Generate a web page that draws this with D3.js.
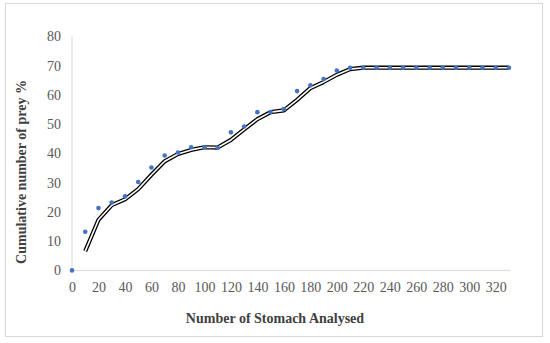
<!DOCTYPE html>
<html>
<head>
<meta charset="utf-8">
<script src="https://cdn.jsdelivr.net/npm/d3@7"></script>
<style>
  html, body { margin: 0; padding: 0; background: #fff; }
  svg { display: block; }
</style>
</head>
<body>
<svg id="chart" width="550" height="343"></svg>
<script>
// Data
const stomachs = [0,10,20,30,40,50,60,70,80,90,100,110,120,130,140,150,160,170,180,190,200,210,220,230,240,250,260,270,280,290,300,310,320,330];
const preyPct  = [0,13.2,21.3,23.2,25.3,30.2,35.2,39.3,40.3,42.1,42.1,41.9,47.2,49.2,54.1,54.1,55.2,61.3,63.3,65.4,68.3,69.3,69.3,69.3,69.3,69.3,69.3,69.3,69.3,69.3,69.3,69.3,69.3,69.3];
// 2-period moving-average trendline as drawn (starts at 10)
const trendX = [10,20,30,40,50,60,70,80,90,100,110,120,130,140,150,160,170,180,190,200,210,220,230,240,250,260,270,280,290,300,310,320,330];
const trendY = [6.6,17.3,22.3,24.3,27.8,32.7,37.3,39.8,41.2,42.1,42.0,44.6,48.2,51.7,54.1,54.7,58.3,62.3,64.4,66.9,68.8,69.3,69.3,69.3,69.3,69.3,69.3,69.3,69.3,69.3,69.3,69.3,69.3];
const xTicks = [0,20,40,60,80,100,120,140,160,180,200,220,240,260,280,300,320];
const yTicks = [0,10,20,30,40,50,60,70,80];
const xTitle = "Number of Stomach Analysed";
const yTitle = "Cumulative number of prey %";

const svg = d3.select("#chart");

// outer chart border
svg.append("rect")
  .attr("x", 5.5).attr("y", 3.5).attr("width", 537).attr("height", 333)
  .attr("fill", "#fff").attr("stroke", "#d9d9d9").attr("stroke-width", 1);

const x = d3.scaleLinear().domain([0, 330]).range([72, 509]);
const y = d3.scaleLinear().domain([0, 80]).range([270.4, 36.4]);

const font = "'Liberation Serif', 'Times New Roman', serif";

// axes lines
svg.append("line")
  .attr("x1", 72).attr("x2", 72).attr("y1", y(80)).attr("y2", y(0))
  .attr("stroke", "#d9d9d9").attr("stroke-width", 1);
svg.append("line")
  .attr("x1", 72).attr("x2", 510.5).attr("y1", y(0)).attr("y2", y(0))
  .attr("stroke", "#d9d9d9").attr("stroke-width", 1);

// y tick labels
const yAxis = d3.axisLeft(y).tickValues(yTicks).tickSize(0).tickPadding(11);
const gy = svg.append("g").attr("transform", "translate(72,0)").call(yAxis)
  .attr("font-family", font).attr("font-size", 14);
gy.select(".domain").remove();
gy.selectAll("text").style("font-family", font).style("font-size", "14px").attr("fill", "#595959");

// x tick labels
const xAxis = d3.axisBottom(x).tickValues(xTicks).tickSize(0).tickPadding(12);
const gx = svg.append("g").attr("transform", `translate(0,${y(0)})`).call(xAxis)
  .attr("font-family", font).attr("font-size", 14);
gx.select(".domain").remove();
gx.selectAll("text").style("font-family", font).style("font-size", "14px").attr("fill", "#595959");

// trend line (double compound line)
const line = d3.line().x((d, i) => x(trendX[i])).y(d => y(d));
svg.append("path").datum(trendY).attr("d", line)
  .attr("fill", "none").attr("stroke", "#000").attr("stroke-width", 4.2)
  .attr("stroke-linejoin", "round");
svg.append("path").datum(trendY).attr("d", line)
  .attr("fill", "none").attr("stroke", "#fff").attr("stroke-width", 1.6)
  .attr("stroke-linejoin", "round");

// data points
svg.append("g").selectAll("circle").data(preyPct).join("circle")
  .attr("cx", (d, i) => x(stomachs[i]))
  .attr("cy", d => y(d))
  .attr("r", 2.3)
  .attr("fill", "#4472C4");

// titles
svg.append("text")
  .attr("x", 275).attr("y", 323)
  .attr("text-anchor", "middle")
  .style("font-family", font).style("font-size", "14px").attr("font-weight", "bold")
  .attr("fill", "#404040")
  .text(xTitle);

svg.append("text")
  .attr("transform", "translate(26,172) rotate(-90)")
  .attr("text-anchor", "middle")
  .style("font-family", font).style("font-size", "14px").attr("font-weight", "bold")
  .attr("fill", "#404040")
  .text(yTitle);
</script>
</body>
</html>
